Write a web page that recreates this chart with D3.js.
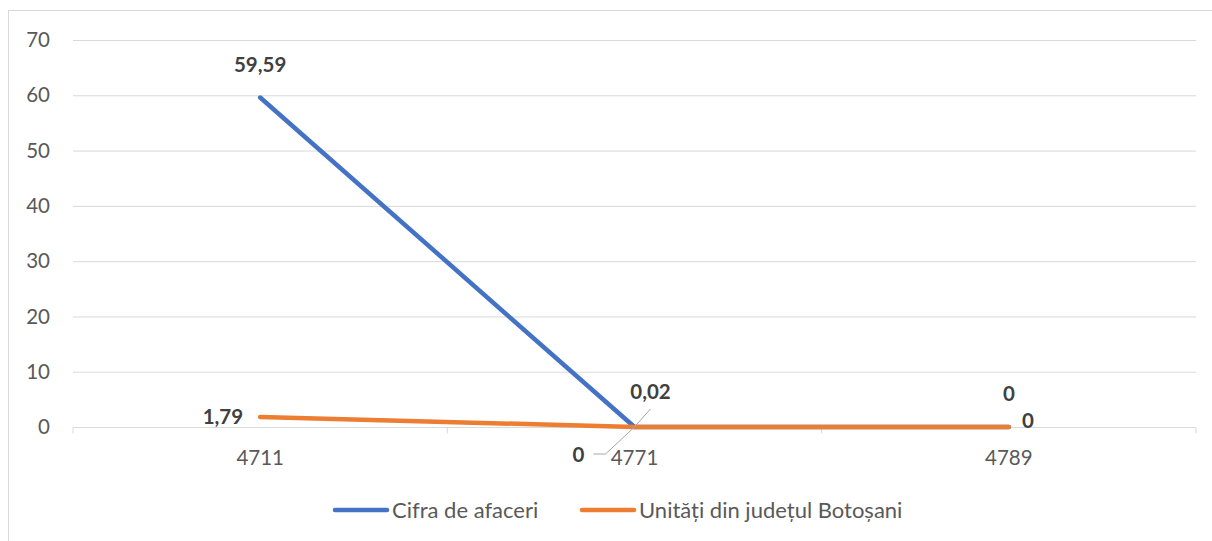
<!DOCTYPE html>
<html lang='ro'>
<head>
<meta charset='UTF-8'>
<title>Cifra de afaceri</title>
<script src='https://d3js.org/d3.v7.min.js'></script>
<style>
  body { margin: 0; background: #fff; }
  svg { display: block; font-family: 'Lato', 'Open Sans', sans-serif; }
</style>
</head>
<body>
<div id='chart'></div>
<script>
const categories = ['4711', '4771', '4789'];
const cifraAfaceri = [59.59, 0, 0];
const unitatiBotosani = [1.79, 0.02, 0];
const yTicks = [0, 10, 20, 30, 40, 50, 60, 70];
const seriesNames = ['Cifra de afaceri', 'Unități din județul Botoșani'];
const colors = ['#4472C4', '#ED7D31'];

const W = 1212, H = 541;
const plot = { left: 73, right: 1196, top: 40, bottom: 427 };

const svg = d3.select('#chart').append('svg').attr('width', W).attr('height', H);

// outer chart border
svg.append('rect')
  .attr('x', 8.5).attr('y', 10.5)
  .attr('width', W).attr('height', H)
  .attr('fill', 'none').attr('stroke', '#d9d9d9');

const x = d3.scaleBand().domain(categories).range([plot.left, plot.right]);
const y = d3.scaleLinear().domain([0, 70]).range([plot.bottom, plot.top]);

// gridlines
svg.append('g').selectAll('line').data(yTicks.filter(d => d > 0)).join('line')
  .attr('x1', plot.left).attr('x2', plot.right)
  .attr('y1', d => y(d) + 0.5).attr('y2', d => y(d) + 0.5)
  .attr('stroke', '#d9d9d9').attr('stroke-width', 1);

// y axis labels
svg.append('g').selectAll('text').data(yTicks).join('text')
  .attr('x', 50).attr('y', d => y(d)).attr('dy', '0.35em')
  .attr('text-anchor', 'end').attr('font-size', 20.5).attr('fill', '#595959')
  .text(d => d);

// x axis baseline + ticks at band edges
const xAxis = d3.axisBottom(x).tickSize(0).tickFormat(d => d);
const gx = svg.append('g').attr('transform', `translate(0, ${plot.bottom + 0.5})`).call(xAxis);
gx.select('.domain').attr('stroke', '#d9d9d9').attr('d', `M${plot.left},6V0H${plot.right}V6`);
gx.selectAll('.tick text').attr('font-size', 20.5).attr('fill', '#595959')
  .attr('font-family', "'Lato', 'Open Sans', sans-serif").attr('y', 30).attr('dy', '0.35em');
gx.selectAll('.boundary').data(x.domain().slice(1)).join('line')
  .attr('x1', d => x(d)).attr('x2', d => x(d))
  .attr('y1', 0).attr('y2', 6).attr('stroke', '#d9d9d9');

const cx = d => x(d) + x.bandwidth() / 2;

const line = d3.line().x(d => cx(d[0])).y(d => y(d[1]));
[cifraAfaceri, unitatiBotosani].forEach((vals, i) => {
  svg.append('path')
    .datum(categories.map((c, j) => [c, vals[j]]))
    .attr('fill', 'none').attr('stroke', colors[i]).attr('stroke-width', 4.5)
    .attr('stroke-linecap', 'round').attr('stroke-linejoin', 'round')
    .attr('d', line);
});

// data labels (offsets relative to the point)
const fmt = v => String(v).replace('.', ',');
const labels = [
  { s: 0, i: 0, dx: 0, dy: -33, anchor: 'middle' },
  { s: 0, i: 1, dx: -56, dy: 28, anchor: 'middle', leader: [[-29, 27], [-41, 27]] },
  { s: 0, i: 2, dx: 0, dy: -33, anchor: 'middle' },
  { s: 1, i: 0, dx: -17, dy: 0, anchor: 'end' },
  { s: 1, i: 1, dx: 16, dy: -35, anchor: 'middle', leader: [[16, -18]] },
  { s: 1, i: 2, dx: 19, dy: -6, anchor: 'middle' }
];
const seriesVals = [cifraAfaceri, unitatiBotosani];
labels.forEach(l => {
  const px = cx(categories[l.i]), py = y(seriesVals[l.s][l.i]);
  if (l.leader) {
    const pts = [[px, py]].concat(l.leader.map(p => [px + p[0], py + p[1]]));
    svg.append('path').attr('d', d3.line()(pts))
      .attr('fill', 'none').attr('stroke', '#a6a6a6').attr('stroke-width', 1);
  }
  svg.append('text')
    .attr('x', px + l.dx).attr('y', py + l.dy).attr('dy', '0.35em')
    .attr('text-anchor', l.anchor).attr('font-size', 20.5).attr('font-weight', 'bold')
    .attr('fill', '#404040')
    .text(fmt(seriesVals[l.s][l.i]));
});

// legend
const legendX = [333, 580];
seriesNames.forEach((name, i) => {
  const g = svg.append('g').attr('transform', `translate(${legendX[i]}, 510)`);
  g.append('line').attr('x1', 2).attr('x2', 54).attr('y1', 0).attr('y2', 0)
    .attr('stroke', colors[i]).attr('stroke-width', 4.5).attr('stroke-linecap', 'round');
  g.append('text').attr('x', 59).attr('dy', '0.35em')
    .attr('font-size', 22).attr('fill', '#595959').text(name);
});
</script>
</body>
</html>
